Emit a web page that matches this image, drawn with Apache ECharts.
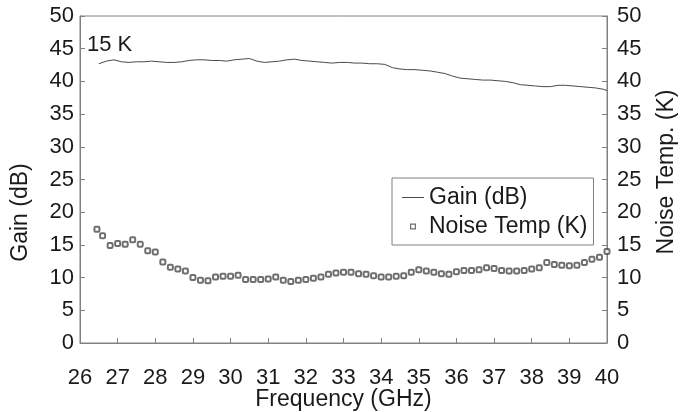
<!DOCTYPE html>
<html>
<head>
<meta charset="utf-8">
<script src="https://cdn.jsdelivr.net/npm/echarts@6/dist/echarts.min.js"></script>
<style>
html, body { margin: 0; padding: 0; background: #fff; }
#gainNoise { width: 680px; height: 412px; }
</style>
</head>
<body>
<div id="gainNoise"></div>
<script>
// 增益 (dB)
var gainFreq = [26.5, 26.7, 26.9, 27.1, 27.3, 27.5, 27.7, 27.9, 28.1, 28.3, 28.5, 28.7, 28.9,
	29.1, 29.3, 29.5, 29.7, 29.9, 30.1, 30.3, 30.5, 30.7, 30.9, 31.1, 31.3, 31.5, 31.7, 31.9,
	32.1, 32.3, 32.5, 32.7, 32.9, 33.1, 33.3, 33.5, 33.7, 33.9, 34.1, 34.3, 34.5, 34.7, 34.9,
	35.1, 35.3, 35.5, 35.7, 35.9, 36.1, 36.3, 36.5, 36.7, 36.9, 37.1, 37.3, 37.5, 37.7, 37.9,
	38.1, 38.3, 38.5, 38.7, 38.9, 39.1, 39.3, 39.5, 39.7, 39.9, 40.0];
var gainDb = [42.7, 43.1, 43.3, 43.0, 42.9, 43.0, 43.0, 43.1, 43.0, 42.9, 42.9, 43.0, 43.2,
	43.3, 43.3, 43.2, 43.2, 43.1, 43.3, 43.4, 43.5, 43.1, 42.9, 43.0, 43.1, 43.3, 43.4, 43.2,
	43.1, 43.0, 42.9, 42.8, 42.9, 42.9, 42.8, 42.8, 42.7, 42.7, 42.6, 42.1, 41.9, 41.8, 41.8,
	41.7, 41.6, 41.4, 41.2, 40.8, 40.5, 40.4, 40.3, 40.2, 40.2, 40.1, 40.0, 39.8, 39.5, 39.4,
	39.3, 39.2, 39.2, 39.4, 39.4, 39.3, 39.2, 39.1, 39.0, 38.8, 38.6];
// 噪声温度 (K)
var noiseFreq = [26.45, 26.6, 26.8, 27.0, 27.2, 27.4, 27.6, 27.8, 28.0, 28.2, 28.4, 28.6, 28.8,
	29.0, 29.2, 29.4, 29.6, 29.8, 30.0, 30.2, 30.4, 30.6, 30.8, 31.0, 31.2, 31.4, 31.6, 31.8,
	32.0, 32.2, 32.4, 32.6, 32.8, 33.0, 33.2, 33.4, 33.6, 33.8, 34.0, 34.2, 34.4, 34.6, 34.8,
	35.0, 35.2, 35.4, 35.6, 35.8, 36.0, 36.2, 36.4, 36.6, 36.8, 37.0, 37.2, 37.4, 37.6, 37.8,
	38.0, 38.2, 38.4, 38.6, 38.8, 39.0, 39.2, 39.4, 39.6, 39.8, 40.0];
var noiseK = [17.4, 16.4, 14.9, 15.2, 15.1, 15.8, 15.1, 14.1, 13.9, 12.4, 11.6, 11.3, 11.0,
	10.0, 9.6, 9.5, 10.1, 10.2, 10.2, 10.35, 9.7, 9.7, 9.7, 9.8, 10.1, 9.6, 9.4, 9.6,
	9.7, 9.9, 10.1, 10.5, 10.7, 10.8, 10.8, 10.6, 10.5, 10.3, 10.1, 10.1, 10.2, 10.3, 10.8,
	11.2, 11.0, 10.8, 10.6, 10.5, 10.9, 11.1, 11.1, 11.2, 11.5, 11.4, 11.1, 11.0, 11.0, 11.1,
	11.3, 11.5, 12.3, 12.0, 11.9, 11.8, 11.9, 12.3, 12.8, 13.1, 14.0];
var freqTicks = [26, 27, 28, 29, 30, 31, 32, 33, 34, 35, 36, 37, 38, 39, 40];

function pairs(xs, ys) {
	var out = [];
	for (var i = 0; i < xs.length; i++) {
		out.push([xs[i], ys[i]]);
	}
	return out;
}

var font = 'Liberation Sans';
var axisGray = '#808080';
var textColor = '#1a1a1a';
var markColor = '#4a4a4a';

gainNoiseChart();
function gainNoiseChart() {
	var myChart = echarts.init(document.getElementById('gainNoise'));

	var yAxisCommon = {
		type: 'value',
		min: 0,
		max: 50,
		interval: 5,
		nameLocation: 'middle',
		nameMoveOverlap: false,
		axisLine: { show: true, lineStyle: { color: axisGray, width: 1 } },
		axisTick: { show: true, inside: true, length: 5, lineStyle: { color: axisGray } },
		splitLine: { show: false },
		axisLabel: { color: textColor, fontFamily: font, fontSize: 22 }
	};

	var option = {
		backgroundColor: '#fff',
		animation: false,
		title: {
			text: '15 K',
			left: 82,
			top: 29,
			textStyle: { color: textColor, fontFamily: font, fontSize: 22, fontWeight: 'normal' }
		},
		grid: {
			left: 80,
			right: 73,
			top: 16,
			bottom: 69,
			outerBoundsMode: 'none',
			containLabel: false,
			show: true,
			borderColor: axisGray,
			borderWidth: 1
		},
		legend: {
			orient: 'vertical',
			left: 392,
			top: 178,
			padding: [8, 6, 7, 10],
			itemGap: 6,
			itemWidth: 22,
			itemHeight: 6,
			borderColor: axisGray,
			borderWidth: 1,
			textStyle: { color: textColor, fontFamily: font, fontSize: 23, lineHeight: 22 },
			data: [
				{ name: 'Gain (dB)', icon: 'path://M0,0L22,0L22,1L0,1Z' },
				{ name: 'Noise Temp (K)', icon: 'path://M0,0L5,0L5,5L0,5Z M1,1L1,4L4,4L4,1Z' }
			]
		},
		xAxis: {
			type: 'value',
			min: freqTicks[0],
			max: freqTicks[freqTicks.length - 1],
			interval: 1,
			name: 'Frequency (GHz)',
			nameLocation: 'middle',
			nameGap: 45,
			nameMoveOverlap: false,
			nameTextStyle: { color: textColor, fontFamily: font, fontSize: 23 },
			axisLine: { lineStyle: { color: axisGray, width: 1 } },
			axisTick: { inside: true, length: 5, lineStyle: { color: axisGray } },
			splitLine: { show: false },
			axisLabel: { color: textColor, fontFamily: font, fontSize: 22, margin: 24 }
		},
		yAxis: [
			echarts.util.merge({
				position: 'left',
				name: 'Gain (dB)',
				nameGap: 48,
				nameTextStyle: { color: textColor, fontFamily: font, fontSize: 23, padding: [0, 66, 0, 0] },
				axisLabel: { margin: 6 }
			}, yAxisCommon),
			echarts.util.merge({
				position: 'right',
				name: 'Noise Temp. (K)',
				nameGap: 48,
				nameTextStyle: { color: textColor, fontFamily: font, fontSize: 23, padding: [0, 0, 0, 15] },
				axisLabel: { margin: 10 }
			}, yAxisCommon)
		],
		series: [
			{
				name: 'Gain (dB)',
				type: 'line',
				yAxisIndex: 0,
				showSymbol: false,
				symbol: 'none',
				lineStyle: { color: markColor, width: 1 },
				itemStyle: { color: markColor },
				data: pairs(gainFreq, gainDb)
			},
			{
				name: 'Noise Temp (K)',
				type: 'scatter',
				yAxisIndex: 1,
				symbol: 'emptyRoundRect',
				symbolSize: 5,
				itemStyle: { color: markColor, borderWidth: 1 },
				data: pairs(noiseFreq, noiseK)
			}
		]
	};
	myChart.clear();
	// 使用刚指定的配置项和数据显示图表。
	myChart.setOption(option);
}
</script>
</body>
</html>
